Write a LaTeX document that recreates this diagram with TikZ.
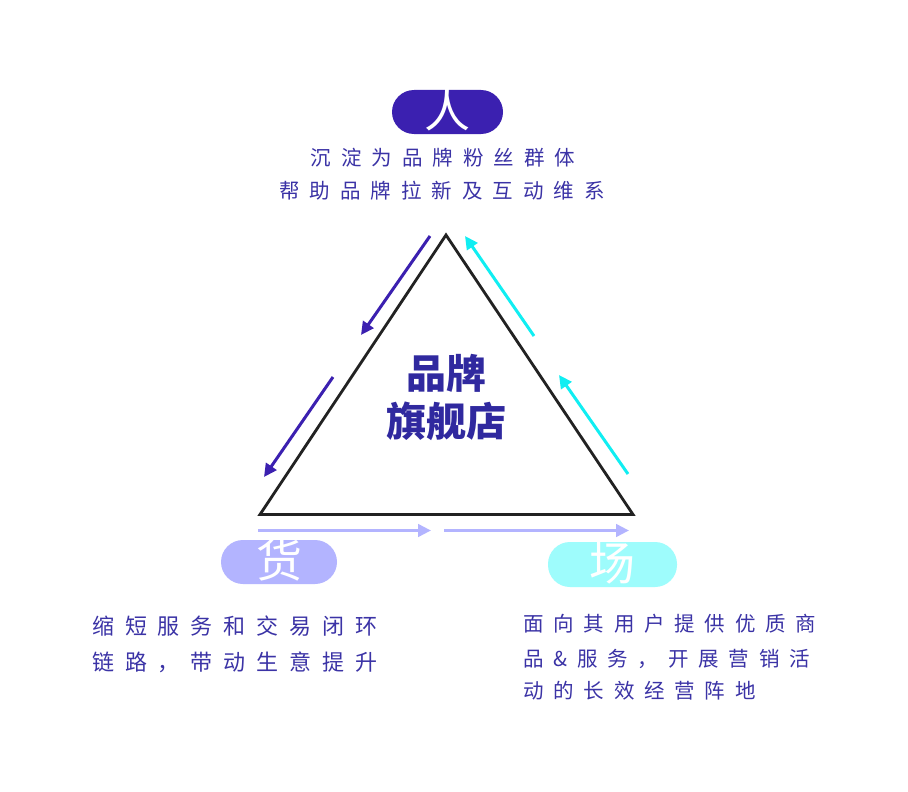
\documentclass[tikz,border=0pt]{standalone}
\usepackage{fontspec}
\usetikzlibrary{arrows.meta}
\newfontfamily\cjk{Noto Sans CJK SC}
\definecolor{txtc}{HTML}{3B33A6}
\definecolor{deepp}{HTML}{3B20B0}
\definecolor{cyanA}{HTML}{10EEF2}
\definecolor{lavA}{HTML}{B3B4FF}
\definecolor{palecy}{HTML}{9EFCFC}
\definecolor{centc}{HTML}{30299F}
\definecolor{triC}{HTML}{222222}
\makeatletter
\newcommand\spacedtext[2]{\@tfor\tmpch:=#2\do{\tmpch\hskip#1\relax}\unskip}
\makeatother
\begin{document}
\begin{tikzpicture}[x=1pt,y=-1pt,
  pill/.style={rounded corners=22pt,minimum height=44pt,inner sep=0pt,draw=none},
  pilltext/.style={text=white,font=\cjk\fontsize{46}{50}\selectfont,inner sep=0pt},
  desc/.style={text=txtc,inner sep=0pt},
  flow/.style={line width=3pt,-{Triangle[length=13pt,width=12.5pt]}},
  ]
\useasboundingbox (0,0) rectangle (908,792);
\fill[white] (0,0) rectangle (908,792);

% triangle
\coordinate (top) at (446,235);
\coordinate (bl) at (260,514.5);
\coordinate (br) at (633,514.5);
\draw[triC,line width=2.8pt,line join=miter] (top) -- (bl) -- (br) -- cycle;

% pills
\node[pill,fill=deepp,minimum width=111pt] (pR) at (447.5,112) {};
\node[pilltext] (tR) at (447,110) {人};
\node[pill,fill=lavA,minimum width=116pt] (pH) at (279,562) {};
\node[pilltext] (tH) at (279,560) {货};
\node[pill,fill=palecy,minimum width=129pt,minimum height=45pt] (pC) at (612.5,564.5) {};
\node[pilltext] (tC) at (612,563) {场};

% top description
\node[desc,font=\cjk\fontsize{20.5}{24}\selectfont] (d1) at (443,158) {\spacedtext{10pt}{沉淀为品牌粉丝群体}};
\node[desc,font=\cjk\fontsize{20.5}{24}\selectfont] (d2) at (442,190.5) {\spacedtext{10pt}{帮助品牌拉新及互动维系}};

% center
\node[text=centc,font=\cjk\bfseries\fontsize{40}{46}\selectfont,inner sep=0pt] (c1) at (446,373) {品牌};
\node[text=centc,font=\cjk\bfseries\fontsize{40}{46}\selectfont,inner sep=0pt] (c2) at (446,421) {旗舰店};

% bottom left description
\node[desc,anchor=west,font=\cjk\fontsize{22}{26}\selectfont] (l1) at (92,626) {\spacedtext{10.9pt}{缩短服务和交易闭环}};
\node[desc,anchor=west,font=\cjk\fontsize{22}{26}\selectfont] (l2) at (92,662) {\spacedtext{10.9pt}{链路，带动生意提升}};

% bottom right description
\node[desc,anchor=west,font=\cjk\fontsize{20.5}{24}\selectfont] (r1) at (523,624) {\spacedtext{9.8pt}{面向其用户提供优质商}};
\node[desc,anchor=west,font=\cjk\fontsize{20.5}{24}\selectfont] (r2) at (523,659) {\spacedtext{9.8pt}{品\&服务，开展营销活}};
\node[desc,anchor=west,font=\cjk\fontsize{20.5}{24}\selectfont] (r3) at (523,691) {\spacedtext{9.8pt}{动的长效经营阵地}};

% arrows left side
\coordinate (a1s) at (430,236);
\coordinate (a1e) at (361,335);
\coordinate (a2s) at (333,377);
\coordinate (a2e) at (264,477);
\draw[flow,deepp] (a1s) -- (a1e);
\draw[flow,deepp] (a2s) -- (a2e);
% arrows right side
\coordinate (b1s) at (534,336);
\coordinate (b1e) at (465,236);
\coordinate (b2s) at (628,474);
\coordinate (b2e) at (559,375);
\draw[flow,cyanA] (b1s) -- (b1e);
\draw[flow,cyanA] (b2s) -- (b2e);
% arrows bottom
\coordinate (c1s) at (258,530.5);
\coordinate (c1e) at (431,530.5);
\coordinate (c2s) at (444,530.5);
\coordinate (c2e) at (629,530.5);
\draw[flow,lavA] (c1s) -- (c1e);
\draw[flow,lavA] (c2s) -- (c2e);
\end{tikzpicture}
\end{document}
